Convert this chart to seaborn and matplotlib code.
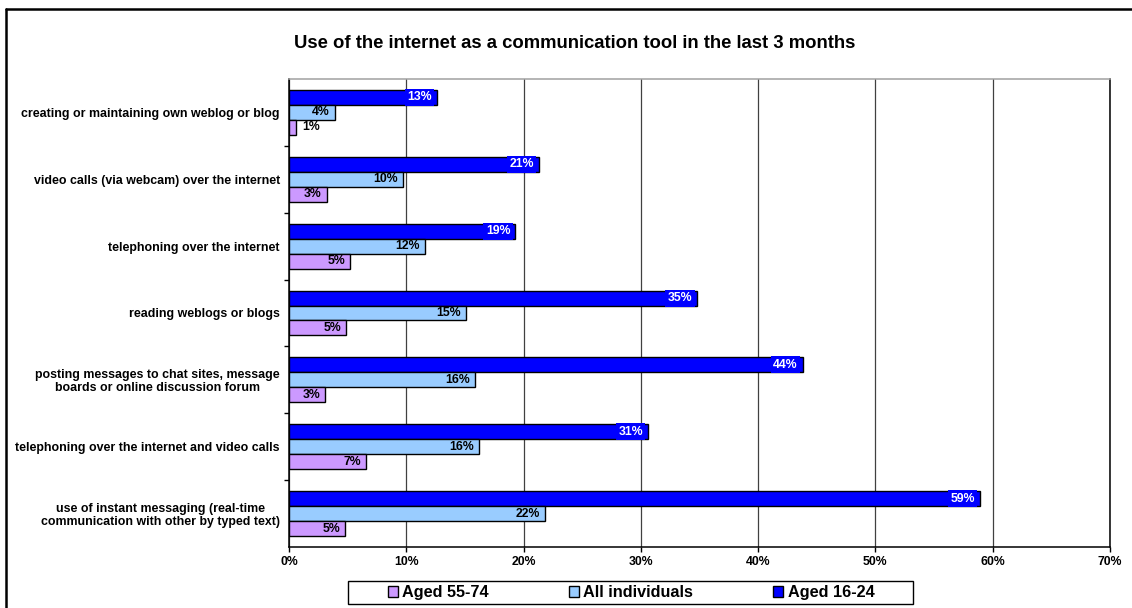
import numpy as np
import pandas as pd
import matplotlib
matplotlib.use('Agg')
import matplotlib.pyplot as plt
import seaborn as sns
from matplotlib.lines import Line2D
from matplotlib.patches import Patch, Rectangle

title = "Use of the internet as a communication tool in the last 3 months"
categories = [
    "creating or maintaining own weblog or blog",
    "video calls (via webcam) over the internet",
    "telephoning over the internet",
    "reading weblogs or blogs",
    "posting messages to chat sites, message\nboards or online discussion forum",
    "telephoning over the internet and video calls",
    "use of instant messaging (real-time\ncommunication with other by typed text)",
]
aged_16_24 = [12.6, 21.3, 19.3, 34.8, 43.8, 30.6, 58.9]
all_individuals = [3.9, 9.7, 11.6, 15.1, 15.9, 16.2, 21.8]
aged_55_74 = [0.6, 3.2, 5.2, 4.9, 3.1, 6.6, 4.8]
series_names = ["Aged 16-24", "All individuals", "Aged 55-74"]
legend_order = ["Aged 55-74", "All individuals", "Aged 16-24"]
x_ticks = [0, 10, 20, 30, 40, 50, 60, 70]
colors = {"Aged 16-24": "#0000FF", "All individuals": "#99CCFF", "Aged 55-74": "#CC99FF"}

sns.set_style("white")
plt.rcParams['font.family'] = ['Liberation Sans', 'DejaVu Sans']
plt.rcParams['font.weight'] = 'bold'
for k in ['text.color', 'axes.labelcolor', 'xtick.color', 'ytick.color']:
    plt.rcParams[k] = 'black'

values = {"Aged 16-24": aged_16_24, "All individuals": all_individuals, "Aged 55-74": aged_55_74}
df = pd.DataFrame({
    "category": categories * 3,
    "series": sum([[s] * len(categories) for s in series_names], []),
    "value": sum([values[s] for s in series_names], []),
})

W, H = 1132, 608
fig = plt.figure(figsize=(W / 100, H / 100), dpi=100)
ax = fig.add_axes([289 / W, 61 / H, 821 / W, 468 / H])

sns.barplot(data=df, y="category", x="value", hue="series", hue_order=series_names,
            order=categories, palette=colors, orient="h", width=0.67, gap=0,
            edgecolor="black", linewidth=1, saturation=1, legend=False, ax=ax)

ax.set_xlim(0, 70)
ax.set_ylim(6.5, -0.5)
ax.set_xlabel("")
ax.set_ylabel("")

LBL = 8.8
# data labels
for container, name in zip(ax.containers, series_names):
    for bar in container:
        val = bar.get_width()
        yc = bar.get_y() + bar.get_height() / 2
        txt = f"{val:.0f}%"
        if name == "Aged 16-24":
            ax.annotate(txt, xy=(val, yc), xytext=(-5, 0), textcoords="offset pixels",
                        ha="right", va="center", fontsize=LBL, fontweight="bold", color="white",
                        bbox=dict(boxstyle="square,pad=0.2", facecolor="#0000FF", edgecolor="none"))
        elif val < 1.5:
            ax.annotate(txt, xy=(val, yc), xytext=(6, 0), textcoords="offset pixels",
                        ha="left", va="center", fontsize=LBL, fontweight="bold", color="black")
        else:
            ax.annotate(txt, xy=(val, yc), xytext=(-5, 0), textcoords="offset pixels",
                        ha="right", va="center", fontsize=LBL, fontweight="bold", color="black")

# axes styling
ax.set_xticks(x_ticks)
ax.set_xticklabels([f"{t}%" for t in x_ticks], fontsize=8.8, fontweight="bold", color="black")
ax.tick_params(axis="x", direction="out", length=3.5, width=1, color="black", pad=3.0, bottom=True)
ax.set_yticks(range(len(categories)))
ax.set_yticklabels(categories, fontsize=8.9, fontweight="bold", multialignment="center",
                   linespacing=1.12, color="black")
ax.tick_params(axis="y", length=0, pad=6.5)
ax.set_yticks(np.arange(0.5, len(categories) - 1, 1.0), minor=True)
ax.tick_params(axis="y", which="minor", direction="out", length=3.5, width=1, color="black", left=True)

ax.grid(axis="x", color="#404040", linewidth=0.9)
ax.grid(axis="y", visible=False)
ax.set_axisbelow(True)
for side in ["left", "bottom", "right"]:
    ax.spines[side].set_visible(True)
    ax.spines[side].set_color("black")
    ax.spines[side].set_linewidth(1.1)
ax.spines["top"].set_visible(True)
ax.spines["top"].set_color("#A0A0A0")
ax.spines["top"].set_linewidth(1.1)

fig.text(575 / W, 1 - 43 / H, title, ha="center", va="center", fontsize=13.3,
         fontweight="bold", color="black")

# legend box
fig.add_artist(Rectangle((348 / W, 1 - 604 / H), 565 / W, 23 / H, transform=fig.transFigure,
                         facecolor="white", edgecolor="black", linewidth=1.0))
handles = [Patch(facecolor=colors[n], edgecolor="black", linewidth=1) for n in legend_order]
leg = fig.legend(handles, legend_order, loc="center",
                 bbox_to_anchor=(631 / W, 1 - 592.5 / H), ncol=3,
                 frameon=False, fontsize=11.7, handlelength=0.62, handleheight=0.62,
                 handletextpad=0.25, borderaxespad=0, borderpad=0, columnspacing=4.95)
for t in leg.get_texts():
    t.set_fontweight("bold")
    t.set_color("black")

# outer chart border (left and top only, as cropped)
fig.add_artist(Line2D([6 / W, 6 / W], [0, 1 - 9 / H], transform=fig.transFigure, color="black", linewidth=1.8))
fig.add_artist(Line2D([6 / W, 1], [1 - 9 / H, 1 - 9 / H], transform=fig.transFigure, color="black", linewidth=1.8))

fig.savefig("out.png", dpi=100, facecolor="white")
